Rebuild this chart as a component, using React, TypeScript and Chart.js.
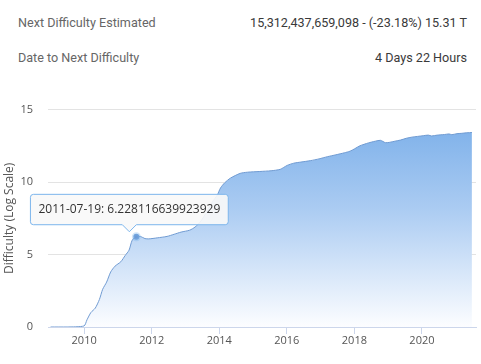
import React, { useEffect, useRef } from 'react';
import { Chart, registerables, Tooltip } from 'chart.js';

Chart.register(...registerables);

const dates: string[] = [
  '2009-01-03', '2009-07-01', '2009-12-30', '2010-02-01', '2010-03-15', '2010-05-01', '2010-06-15',
  '2010-07-20', '2010-09-01', '2010-10-15', '2010-12-01', '2011-02-01', '2011-03-20', '2011-05-01',
  '2011-06-05', '2011-07-19', '2011-09-01', '2011-10-20', '2011-12-01', '2012-03-01', '2012-06-15',
  '2012-09-01', '2012-11-15', '2013-02-15', '2013-04-15', '2013-06-15', '2013-08-15', '2013-10-15',
  '2013-12-10', '2014-01-15', '2014-03-01', '2014-05-01', '2014-08-15', '2014-11-01', '2015-03-15',
  '2015-07-15', '2015-10-22', '2016-01-05', '2016-03-15', '2016-06-01', '2016-09-15', '2016-12-15',
  '2017-03-15', '2017-06-15', '2017-09-15', '2017-11-15', '2018-01-05', '2018-03-01', '2018-06-01',
  '2018-08-15', '2018-10-10', '2018-12-01', '2019-01-15', '2019-03-15', '2019-05-15', '2019-07-15',
  '2019-09-15', '2019-11-15', '2020-01-15', '2020-03-10', '2020-04-15', '2020-06-15', '2020-09-01',
  '2020-10-20', '2020-11-20', '2021-01-15', '2021-03-01', '2021-05-01', '2021-06-25',
];

const values: number[] = [
  0, 0, 0.07, 0.5, 1.0, 1.3, 1.9,
  2.6, 3.1, 3.8, 4.2, 4.5, 4.93, 5.3,
  6.0, 6.228116639923929, 6.25, 6.1, 6.08, 6.15, 6.25,
  6.4, 6.55, 6.68, 6.9, 7.3, 7.9, 8.6,
  9.1, 9.6, 9.95, 10.27, 10.6, 10.68, 10.73,
  10.78, 10.88, 11.15, 11.3, 11.38, 11.48, 11.6,
  11.75, 11.88, 12.02, 12.13, 12.3, 12.5, 12.7,
  12.82, 12.88, 12.72, 12.74, 12.82, 12.9, 13.02,
  13.1, 13.15, 13.2, 13.24, 13.18, 13.24, 13.28,
  13.32, 13.27, 13.34, 13.36, 13.4, 13.42,
];

const xTicks: number[] = [2010, 2012, 2014, 2016, 2018, 2020];
const yTicks: number[] = [0, 5, 10, 15];
const tooltipDate = '2011-07-19';
const yTitle = 'Difficulty (Log Scale)';
const headerLabels: string[] = ['Next Difficulty Estimated', 'Date to Next Difficulty'];
const headerValues: string[] = ['15,312,437,659,098 - (-23.18%) 15.31 T', '4 Days 22 Hours'];

function toYear(d: string): number {
  const [y, m, dd] = d.split('-').map(Number);
  const start = Date.UTC(y, 0, 1);
  const end = Date.UTC(y + 1, 0, 1);
  return y + (Date.UTC(y, m - 1, dd) - start) / (end - start);
}

(Tooltip.positioners as any).leftish = function (items: any[]) {
  if (!items.length) return false;
  const el = items[0].element;
  return { x: el.x - 7, y: el.y };
};

const FONT = "'Open Sans', sans-serif";

export default function App() {
  const ref = useRef<HTMLCanvasElement | null>(null);

  useEffect(() => {
    if (!ref.current) return;
    const points = dates.map((d, i) => ({ x: toYear(d), y: values[i] }));
    const chart = new Chart(ref.current, {
      type: 'line',
      data: {
        datasets: [
          {
            data: points,
            borderColor: 'rgb(112,155,210)',
            borderWidth: 1,
            pointRadius: 0,
            pointHoverRadius: 3,
            pointHoverBorderWidth: 3,
            pointHoverBackgroundColor: '#6d9bd6',
            pointHoverBorderColor: 'rgba(124,181,236,0.35)',
            tension: 0.25,
            fill: 'origin',
            backgroundColor: (ctx: any) => {
              const c = ctx.chart;
              const a = c.chartArea;
              if (!a) return 'rgba(124,181,236,0.6)';
              const g = c.ctx.createLinearGradient(0, a.top, 0, a.bottom);
              g.addColorStop(0, 'rgb(118,172,232)');
              g.addColorStop(0.45, 'rgb(170,203,242)');
              g.addColorStop(1, 'rgb(252,253,255)');
              return g;
            },
          },
        ],
      },
      options: {
        responsive: false,
        animation: false,
        events: [],
        layout: { padding: { top: 14, right: 5, left: 0, bottom: 0 } },
        interaction: { mode: 'nearest', intersect: false },
        plugins: {
          legend: { display: false },
          tooltip: {
            enabled: true,
            position: 'leftish' as any,
            xAlign: 'center',
            yAlign: 'bottom',
            backgroundColor: 'rgba(248,248,248,0.92)',
            borderColor: '#7cb5ec',
            borderWidth: 1,
            cornerRadius: 3,
            bodyColor: '#333',
            bodyFont: { family: FONT, size: 12 },
            padding: { left: 8, right: 8, top: 8, bottom: 8 },
            displayColors: false,
            caretSize: 7,
            caretPadding: 5,
            callbacks: {
              title: () => [],
              label: (ctx: any) => `${dates[ctx.dataIndex]}: ${values[ctx.dataIndex]}`,
            },
          },
        },
        scales: {
          x: {
            type: 'linear',
            min: 2008.93,
            max: 2021.6,
            afterBuildTicks: (s: any) => {
              s.ticks = xTicks.map((v) => ({ value: v }));
            },
            afterFit: (s: any) => {
              s.height = 37;
            },
            ticks: {
              color: '#555',
              font: { family: FONT, size: 11 },
              padding: 0,
              maxRotation: 0,
              autoSkip: false,
              callback: (v: any) => String(v),
            },
            grid: { drawOnChartArea: false, color: '#ccd6eb', tickLength: 7 },
            border: { color: '#ccd6eb' },
          },
          y: {
            min: 0,
            max: 15,
            afterBuildTicks: (s: any) => {
              s.ticks = yTicks.map((v) => ({ value: v }));
            },
            afterFit: (s: any) => {
              s.width = 48;
            },
            ticks: {
              color: '#555',
              font: { family: FONT, size: 11 },
              padding: 15,
            },
            grid: { color: '#e3e3e3', drawTicks: false },
            border: { display: false },
            title: {
              display: true,
              text: yTitle,
              color: '#555',
              font: { family: FONT, size: 12 },
              padding: { top: 2, bottom: 0 },
            },
          },
        },
      },
    });
    const idx = dates.indexOf(tooltipDate);
    const act = [{ datasetIndex: 0, index: idx }];
    chart.setActiveElements(act);
    chart.tooltip?.setActiveElements(act, { x: 0, y: 0 });
    chart.update();
    return () => chart.destroy();
  }, []);

  const rowTops = [23, 58];
  return (
    <div style={{ position: 'fixed', left: 0, top: 0, width: 481, height: 364, background: '#fff', overflow: 'hidden' }}>
      {headerLabels.map((t, i) => (
        <div
          key={'l' + i}
          style={{
            position: 'absolute', left: 18, top: rowTops[i] - 10, height: 20, lineHeight: '20px',
            fontFamily: 'Roboto, sans-serif', fontSize: 12.6, color: '#666', whiteSpace: 'nowrap',
          }}
        >
          {t}
        </div>
      ))}
      {headerValues.map((t, i) => (
        <div
          key={'v' + i}
          style={{
            position: 'absolute', right: 14, top: rowTops[i] - 10, height: 20, lineHeight: '20px',
            fontFamily: 'Roboto, sans-serif', fontSize: 12.6, color: '#3a3a3a', whiteSpace: 'nowrap', textAlign: 'right',
          }}
        >
          {t}
        </div>
      ))}
      <canvas ref={ref} width={481} height={276} style={{ position: 'absolute', left: 0, top: 88, width: 481, height: 276 }} />
    </div>
  );
}
